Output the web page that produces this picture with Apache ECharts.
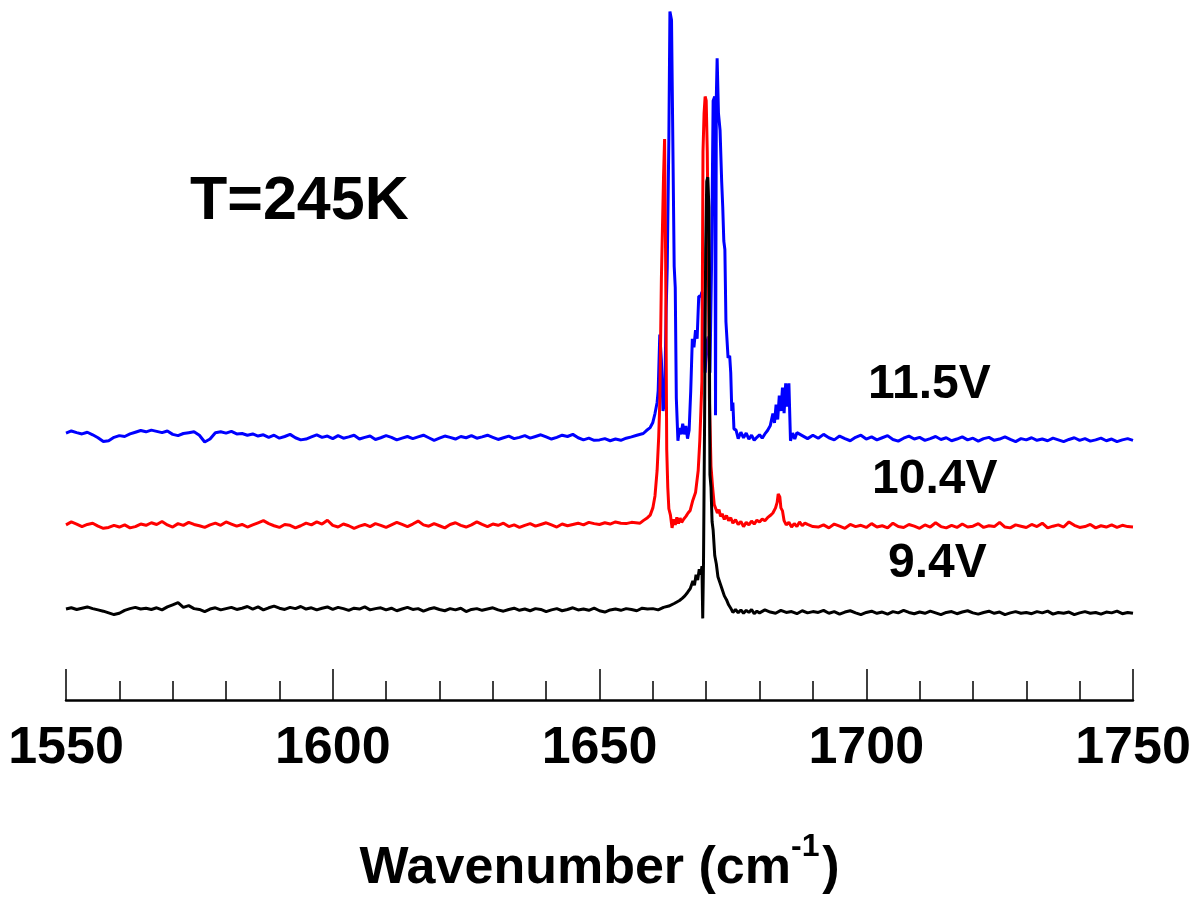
<!DOCTYPE html>
<html>
<head>
<meta charset="utf-8">
<script src="https://cdn.jsdelivr.net/npm/echarts@6/dist/echarts.min.js"></script>
<style>
html,body{margin:0;padding:0;background:#fff;}
#chart{width:1200px;height:900px;}
</style>
</head>
<body>
<div id="chart"></div>
<script>
// x axis
const xMin = 1550, xMax = 1750, xMajor = 50;
const tickLabels = ['1550', '1600', '1650', '1700', '1750'];
// vertical offsets of the stacked spectra (arbitrary intensity units)
const offsetBlack = 0, offsetRed = 20, offsetBlue = 41;
const yMin = -21, yMax = 143.7;
const seriesNames = ['11.5V', '10.4V', '9.4V'];
const titleText = 'T=245K';

// 11.5 V (blue): 1550..1657 step 1
const blueLeft = [
  0.8, 1.3, 0.9, 0.6, 1.0, 0.4, -0.3, -1.2, -1.0, -0.2,
  0.2, 0.0, 0.6, 1.0, 1.4, 1.1, 1.5, 1.2, 0.9, 1.3,
  0.5, 0.2, 0.7, 0.9, 1.1, 0.3, -1.3, -0.6, 0.9, 1.1,
  0.8, 1.2, 0.6, 0.7, 0.3, 0.6, 0.1, 0.4, -0.2, 0.3,
  -0.4, 0.0, 0.5, -0.3, -0.8, -0.6, -0.1, 0.4, -0.2, 0.1,
  -0.5, 0.2, -0.4, -0.1, 0.3, -0.6, -0.2, 0.1, -0.7, -0.3,
  0.2, -0.2, -0.8, -0.4, 0.0, -0.5, -0.1, 0.3, -0.3, -0.9,
  -0.4, 0.1, -0.2, -0.6, 0.0, -0.3, 0.2, -0.4, -0.1, 0.3,
  -0.2, -0.7, -0.3, 0.1, -0.5, -0.2, 0.2, -0.4, 0.0, 0.4,
  -0.1, -0.6, -0.2, 0.3, 0.0, 0.5, -0.3, -0.8, -0.4, -0.9,
  -0.8, -0.5, -1.0, -0.6, -0.9, -0.4, -0.1, 0.3
];
const bluePeak = [
  [1658.2, 0.7], [1658.8, 1.4], [1659.5, 2.1], [1660.0, 3.3], [1660.4, 5.4], [1660.8, 8.0],
  [1661.0, 10.8], [1661.3, 24], [1661.6, 18], [1661.9, 6], [1662.2, 8], [1662.5, 30],
  [1662.7, 40], [1663.0, 70], [1663.2, 100], [1663.5, 98], [1663.7, 98], [1664.0, 40],
  [1664.2, 35], [1664.4, 9], [1664.7, -1], [1665.0, 2], [1665.3, 0.5], [1665.6, 3],
  [1665.9, 0.5], [1666.2, 2.5], [1666.5, -0.5], [1666.8, 1.5], [1667.1, 10.7], [1667.4, 23],
  [1667.7, 21], [1668.0, 25], [1668.3, 23], [1668.6, 33], [1669.0, 33], [1669.2, 34],
  [1669.5, 22], [1669.8, 15], [1670.1, 22], [1670.4, 23.5], [1670.7, 15], [1671.0, 40],
  [1671.3, 79], [1671.6, 80], [1671.75, 5], [1671.9, 80], [1672.05, 89], [1672.3, 76],
  [1672.6, 72], [1672.9, 60], [1673.1, 54], [1673.3, 46], [1673.5, 44], [1673.7, 27],
  [1674.1, 18.5], [1674.4, 19], [1674.6, 15], [1674.8, 6], [1675.0, 8], [1675.2, 1.8],
  [1675.6, 1.5], [1676.0, -0.5], [1676.5, 1.0], [1677.0, -0.3], [1677.5, 0.8], [1678.0, -0.6],
  [1678.5, 0.3], [1679.0, -0.9], [1679.5, -0.2], [1680.0, 0.4], [1680.5, -0.4], [1681.0, 0.6],
  [1681.5, 1.4], [1682.0, 2.5], [1682.5, 5.4], [1682.8, 3.2], [1683.1, 7.5], [1683.4, 4.0],
  [1683.7, 9.6], [1684.0, 6.0], [1684.3, 11.5], [1684.6, 5.5], [1684.9, 12.5], [1685.2, 7.0],
  [1685.5, 12.5], [1685.8, -1.0], [1686.2, 0.8], [1686.6, -0.6], [1687.0, 0.9], [1688.0, 0.2],
  [1689.0, -0.5], [1690.0, 0.3]
];
// 1691..1750 step 1
const blueRight = [
  -0.4, 0.5, -0.3, -0.8, 0.1, -0.5, -1.0, -0.2, 0.3, -0.6,
  -0.1, -0.8, -0.3, 0.2, -0.7, -1.1, -0.4, 0.1, -0.6, -0.2,
  -0.9, -0.5, 0.0, -0.7, -0.3, -1.0, -0.6, -0.1, -0.8, -0.4,
  -1.1, -0.5, -0.2, -0.9, -0.6, -0.1, -0.7, -1.2, -0.5, -0.8,
  -0.3, -0.9, -0.6, -1.0, -0.4, -0.8, -1.2, -0.7, -0.3, -0.9,
  -0.5, -1.1, -0.8, -0.4, -1.0, -0.6, -1.2, -0.8, -0.5, -0.9
];

// 10.4 V (red): 1550..1656 step 1
const redLeft = [
  0.2, 0.9, 0.4, -0.2, 0.3, 0.6, -0.1, -0.6, -0.4, 0.1,
  -0.3, 0.2, -0.5, -0.2, 0.4, 0.1, 0.7, 0.3, 1.0, 0.2,
  -0.3, 0.5, 0.1, 0.8, 0.3, 0.0, -0.4, 0.2, 0.6, 0.1,
  0.9, 0.4, -0.1, 0.3, -0.3, 0.2, 0.7, 1.2, 0.5, 0.0,
  -0.4, 0.3, 0.1, -0.5, 0.0, 0.6, 0.2, 0.9, 0.4, 1.3,
  0.1, -0.3, 0.4, 0.0, -0.6, -0.1, 0.3, -0.2, 0.5, 0.1,
  -0.4, 0.2, 0.8, 0.3, -0.2, 0.4, 1.1, 0.2, -0.1, 0.5,
  0.0, -0.5, 0.3, 0.7, 0.1, -0.3, 0.2, 0.9, 0.3, -0.2,
  0.4, 0.1, 0.6, -0.2, 0.2, -0.4, 0.1, 0.5, -0.1, 0.3,
  0.7, 0.2, -0.3, 0.4, 0.0, 0.3, 0.6, 0.2, 0.8, 0.5,
  0.3, 0.7, 0.4, 0.9, 0.6, 0.5, 0.8
];
const redPeak = [
  [1657.6, 0.6], [1658.2, 1.2], [1659.0, 1.9], [1659.5, 2.5], [1660.0, 4.2], [1660.4, 7.0],
  [1660.8, 13], [1661.1, 21], [1661.3, 29], [1661.6, 58], [1661.8, 70], [1662.0, 82],
  [1662.2, 91], [1662.4, 62], [1662.6, 18], [1662.8, 9], [1663.0, 4], [1663.3, 2.5],
  [1663.6, -0.5], [1663.9, 1.5], [1664.2, 0.2], [1664.5, 2.0], [1664.8, 0.5], [1665.1, 1.8],
  [1665.4, 0.8], [1665.8, 1.6], [1666.2, 2.2], [1666.6, 3.0], [1667.0, 3.6], [1667.5, 6.0],
  [1668.0, 7.8], [1668.5, 13], [1668.8, 20], [1669.0, 27], [1669.2, 34], [1669.4, 88],
  [1669.6, 97], [1669.8, 101], [1670.0, 100], [1670.2, 88], [1670.4, 62], [1670.6, 30],
  [1670.9, 14], [1671.2, 9], [1671.5, 5], [1671.8, 4], [1672.1, 3], [1672.4, 3.8],
  [1672.7, 2.2], [1673.0, 2.8], [1673.4, 1.5], [1673.8, 2.4], [1674.2, 1.2], [1674.6, 1.9],
  [1675.0, 0.6], [1675.5, 1.4], [1676.0, 0.3], [1676.5, 1.0], [1677.0, -0.2], [1677.5, 0.8],
  [1678.0, 0.2], [1678.5, 1.1], [1679.0, 0.4], [1679.5, 1.3], [1680.0, 0.9], [1680.5, 1.6],
  [1681.0, 1.2], [1681.5, 1.9], [1682.0, 2.4], [1682.5, 3.0], [1683.0, 4.2], [1683.3, 5.5],
  [1683.5, 7.5], [1683.8, 6.8], [1684.0, 4.2], [1684.3, 3.5], [1684.6, 1.2], [1685.0, 0.2],
  [1685.5, 0.8], [1686.0, -0.3], [1686.5, 0.5], [1687.0, -0.2], [1687.5, 0.9], [1688.0, 0.0],
  [1688.5, 0.6], [1689.0, 0.3], [1690.0, -0.2]
];
const redRight = [
  -0.3, 0.2, -0.5, 0.4, -0.1, -0.6, 0.3, -0.2, 0.1, -0.4,
  0.5, -0.3, 0.0, -0.5, 0.6, -0.2, -0.4, 0.3, -0.1, -0.6,
  0.2, -0.3, 0.7, -0.2, -0.5, 0.1, -0.4, 0.4, -0.3, -0.1,
  0.5, -0.4, 0.0, -0.2, 0.8, -0.3, -0.5, 0.2, -0.1, -0.4,
  0.3, -0.2, 0.6, -0.5, -0.1, 0.2, -0.3, 0.9, 0.1, -0.4,
  -0.2, 0.3, -0.5, 0.0, -0.3, 0.2, -0.4, 0.1, -0.2, -0.3
];

// 9.4 V (black): 1550..1660 step 1
const blackLeft = [
  0.4, 0.7, 0.3, 0.6, 0.9, 0.5, 0.2, -0.1, -0.5, -0.9,
  -0.6, 0.1, 0.5, 0.8, 0.4, 0.6, 0.3, 0.7, 0.2, 0.9,
  1.4, 1.9, 0.8, 1.2, 0.5, 0.3, -0.2, 0.4, 0.7, 0.2,
  0.5, 0.8, 0.3, 0.6, 1.0, 0.4, 0.9, 0.2, 0.7, 1.1,
  0.6, 0.3, 0.8, 0.5, 1.0, 0.4, 0.7, 0.2, 0.6, 0.9,
  0.3, 0.8, 0.5, 0.1, 0.6, 0.4, 0.9, 0.2, 0.5, 0.7,
  0.2, 0.6, 0.0, 0.4, 0.8, 0.3, 0.5, -0.1, 0.4, 0.7,
  0.3, 0.0, 0.5, 0.2, 0.6, -0.2, 0.3, 0.5, 0.1, 0.4,
  0.7, 0.2, -0.1, 0.3, 0.6, 0.1, 0.4, 0.0, 0.5, 0.3,
  -0.2, 0.2, 0.5, 0.0, 0.3, 0.7, 0.2, 0.4, 0.1, 0.6,
  0.0, -0.3, 0.2, 0.4, 0.1, 0.5, 0.3, 0.0, 0.6, 0.4, 0.5
];
const blackPeak = [
  [1661, 0.2], [1662, 0.8], [1663, 1.1], [1664, 1.7], [1665, 2.4], [1665.5, 2.9],
  [1666, 3.5], [1666.5, 4.3], [1667, 5.2], [1667.5, 7.0], [1667.8, 6.0], [1668.1, 8.5],
  [1668.4, 7.2], [1668.7, 9.8], [1669.0, 8.5], [1669.2, 10.5], [1669.35, -1.8], [1669.5, 12],
  [1669.7, 45], [1669.9, 85], [1670.1, 101], [1670.3, 102], [1670.5, 95], [1670.7, 32],
  [1670.9, 29], [1671.1, 21], [1671.3, 19], [1671.6, 13], [1671.9, 11], [1672.2, 8],
  [1672.6, 6.5], [1673.0, 5.0], [1673.4, 3.5], [1673.8, 2.6], [1674.2, 1.4], [1674.6, 0.6],
  [1675.0, -0.4], [1675.5, 0.3], [1676, -0.5], [1676.5, 0.2], [1677, -0.6], [1677.5, 0.1],
  [1678, -0.4], [1678.5, 0.3], [1679, -0.7], [1679.5, -0.1], [1680, -0.5], [1681, 0.2],
  [1682, -0.3], [1683, -0.6], [1684, 0.1], [1685, -0.4], [1686, -0.2], [1687, -0.7],
  [1688, 0.0], [1689, -0.5], [1690, -0.2]
];
const blackRight = [
  -0.4, 0.1, -0.6, -0.2, -0.8, -0.3, 0.0, -0.5, -0.9, -0.4,
  -0.1, -0.6, -0.3, -0.8, -0.2, -0.5, 0.1, -0.4, -0.7, -0.3,
  -0.6, -0.1, -0.5, -0.9, -0.4, -0.2, -0.7, -0.3, 0.0, -0.5,
  -0.8, -0.4, -0.1, -0.6, -0.3, -0.9, -0.5, -0.2, -0.6, -0.4,
  -0.7, -0.2, -0.5, -0.1, -0.8, -0.4, -0.6, -0.3, -0.9, -0.5,
  -0.2, -0.6, -0.4, -0.8, -0.3, -0.5, -0.1, -0.7, -0.4, -0.6
];

function build(left, peak, right, off) {
  const d = [];
  left.forEach((v, i) => d.push([xMin + i, v + off]));
  peak.forEach(p => d.push([p[0], p[1] + off]));
  right.forEach((v, i) => d.push([1691 + i, v + off]));
  return d;
}

const FONT = '"Liberation Sans", Arial, Helvetica, sans-serif';
const chart = echarts.init(document.getElementById('chart'), null, {renderer: 'canvas'});

const option = {
  animation: false,
  backgroundColor: '#ffffff',
  grid: {left: 66, right: 67, top: 0, bottom: 200, containLabel: false, outerBoundsMode: 'none'},
  xAxis: {
    type: 'value',
    min: xMin, max: xMax, interval: xMajor,
    name: '{n|Wavenumber (cm}{s|-1}{g| }{n|)}',
    nameLocation: 'middle',
    nameGap: 139,
    nameTextStyle: {
      rich: {
        n: {fontFamily: FONT, fontSize: 52, fontWeight: 'bold', color: '#000', lineHeight: 60, verticalAlign: 'middle'},
        s: {fontFamily: FONT, fontSize: 32, fontWeight: 'bold', color: '#000', lineHeight: 10, verticalAlign: 'middle', padding: [0, 0, 44, 0]},
        g: {fontFamily: FONT, fontSize: 10, lineHeight: 10, verticalAlign: 'middle'}
      }
    },
    axisLine: {show: true, onZero: false, lineStyle: {color: '#000', width: 2.5}},
    axisTick: {show: true, inside: true, length: 31, lineStyle: {color: '#000', width: 1.5}},
    minorTick: {show: true, splitNumber: 5, length: 19, lineStyle: {color: '#000', width: 1.5}},
    splitLine: {show: false},
    minorSplitLine: {show: false},
    axisLabel: {
      margin: 23,
      fontFamily: FONT, fontSize: 52, fontWeight: 'bold', color: '#000',
      formatter: v => tickLabels[Math.round((v - xMin) / xMajor)] || ''
    }
  },
  yAxis: {type: 'value', min: yMin, max: yMax, show: false},
  graphic: [
    {type: 'text', left: 190, top: 172, style: {text: titleText, fontFamily: FONT, fontSize: 61, fontWeight: 'bold', fill: '#000'}},
    {type: 'text', left: 868, top: 361, style: {text: seriesNames[0], fontFamily: FONT, fontSize: 48, fontWeight: 'bold', fill: '#000'}},
    {type: 'text', left: 872, top: 456, style: {text: seriesNames[1], fontFamily: FONT, fontSize: 48, fontWeight: 'bold', fill: '#000'}},
    {type: 'text', left: 888, top: 540, style: {text: seriesNames[2], fontFamily: FONT, fontSize: 48, fontWeight: 'bold', fill: '#000'}}
  ],
  series: [
    {name: seriesNames[0], type: 'line', data: build(blueLeft, bluePeak, blueRight, offsetBlue),
     showSymbol: false, lineStyle: {color: '#0000ff', width: 3}, itemStyle: {color: '#0000ff'}, z: 2},
    {name: seriesNames[1], type: 'line', data: build(redLeft, redPeak, redRight, offsetRed),
     showSymbol: false, lineStyle: {color: '#ff0000', width: 3}, itemStyle: {color: '#ff0000'}, z: 3},
    {name: seriesNames[2], type: 'line', data: build(blackLeft, blackPeak, blackRight, offsetBlack),
     showSymbol: false, lineStyle: {color: '#000000', width: 3}, itemStyle: {color: '#000000'}, z: 4}
  ]
};
chart.setOption(option);
</script>
</body>
</html>
